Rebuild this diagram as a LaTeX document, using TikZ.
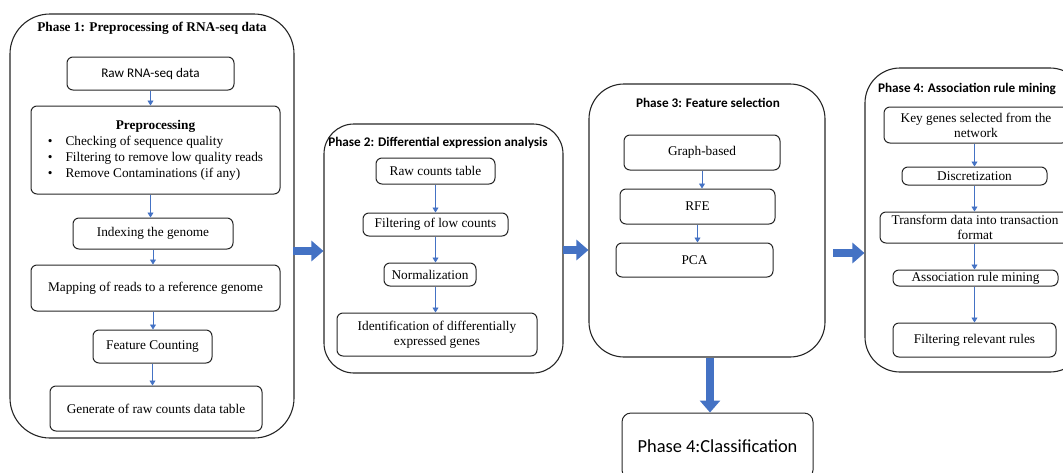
\documentclass[tikz,border=0pt]{standalone}
\usepackage{fontspec}
\setmainfont{Liberation Serif}
\setsansfont{Carlito}
\usetikzlibrary{arrows.meta}

\begin{document}
\begin{tikzpicture}[x=1pt,y=1pt,yscale=-1,xscale=1,
  phase/.style={draw={rgb, 255:red, 38; green, 38; blue, 38 }, line width=1.1pt, inner sep=0pt},
  title/.style={font=\sffamily\bfseries\fontsize{13.2}{15}\selectfont},
  stepbox/.style={draw={rgb, 255:red, 38; green, 38; blue, 38 }, line width=1pt, rounded corners=6pt, inner sep=1pt, align=center, font=\fontsize{13.3}{15}\selectfont},
  flow/.style={draw={rgb, 255:red, 68; green, 114; blue, 196 }, line width=0.8pt, -{Triangle[length=5pt,width=6pt]}},
  bigflow/.style={draw={rgb, 255:red, 68; green, 114; blue, 196 }, line width=8pt, -{Triangle[length=12pt,width=20pt]}},
  ]
\useasboundingbox (0,0) rectangle (1063,472);

%Shape: Phase 1 [id:p1]
\node [phase, rounded corners=40pt, minimum width=284pt, minimum height=424pt] (p1) at (152,226) {};
% Text Node
\node [font=\bfseries\fontsize{13.3}{15}\selectfont] (t1) at (152,28) {Phase 1: Preprocessing of RNA-seq data};
% Text Node
\node [stepbox, font=\sffamily\fontsize{13.2}{15}\selectfont, minimum width=167pt, minimum height=33pt] (raw) at (150.5,73.5) {Raw RNA-seq data};
% Text Node
\node [stepbox, minimum width=249pt, minimum height=88pt] (pre) at (155.5,150) {\renewcommand{\arraystretch}{1.07}\begin{tabular}{@{}l@{\hspace{13pt}}l@{}}
  \multicolumn{2}{c}{\textbf{Preprocessing}}\\
  \textbullet & Checking of sequence quality\\
  \textbullet & Filtering to remove low quality reads\\
  \textbullet & Remove Contaminations (if any)
\end{tabular}};
% Text Node
\node [stepbox, minimum width=160pt, minimum height=31pt] (idx) at (153,233.5) {Indexing the genome};
% Text Node
\node [stepbox, minimum width=249pt, minimum height=46pt] (map) at (155.5,288) {Mapping of reads to a reference genome};
% Text Node
\node [stepbox, minimum width=119pt, minimum height=33pt] (cnt) at (152.5,346.5) {Feature Counting};
% Text Node
\node [stepbox, minimum width=212pt, minimum height=45pt] (gen) at (156,408.5) {Generate of raw counts data table};

\draw [flow] (raw.south) -- (raw.south |- pre.north);
\draw [flow] (raw.south |- pre.south) -- (raw.south |- idx.north);
\draw [flow] (idx.south) -- (idx.south |- map.north);
\draw [flow] (idx.south |- map.south) -- (idx.south |- cnt.north);
\draw [flow] (cnt.south) -- (cnt.south |- gen.north);

%Shape: Phase 2 [id:p2]
\node [phase, rounded corners=30pt, minimum width=239pt, minimum height=249pt] (p2) at (443.5,248.5) {};
% Text Node
\node [title] (t2) at (438,143) {Phase 2: Differential expression analysis};
% Text Node
\node [stepbox, minimum width=119pt, minimum height=26pt] (tab) at (435.5,171) {Raw counts table};
% Text Node
\node [stepbox, minimum width=145pt, minimum height=23pt] (low) at (435.5,224.5) {Filtering of low counts};
% Text Node
\node [stepbox, minimum width=92pt, minimum height=23pt] (nrm) at (430,274.5) {Normalization};
% Text Node
\node [stepbox, minimum width=200pt, minimum height=43pt] (deg) at (437,334.5) {Identification of differentially\\expressed genes};

\draw [flow] (tab.south) -- (tab.south |- low.north);
\draw [flow] (tab.south |- low.south) -- (tab.south |- nrm.north);
\draw [flow] (tab.south |- nrm.south) -- (tab.south |- deg.north);

%Shape: Phase 3 [id:p3]
\node [phase, rounded corners=35pt, minimum width=236pt, minimum height=273pt] (p3) at (707,220.5) {};
% Text Node
\node [title] (t3) at (708,103) {Phase 3: Feature selection};
% Text Node
\node [stepbox, minimum width=156pt, minimum height=35pt] (gph) at (702,152.5) {Graph-based};
% Text Node
\node [stepbox, minimum width=155pt, minimum height=35pt] (rfe) at (697.5,206.5) {RFE};
% Text Node
\node [stepbox, minimum width=157pt, minimum height=34pt] (pca) at (694.5,260) {PCA};

\draw [flow] (gph.south) -- (gph.south |- rfe.north);
\draw [flow] (rfe.south) -- (rfe.south |- pca.north);

% Text Node
\node [stepbox, font=\sffamily\fontsize{18.4}{20}\selectfont, rounded corners=9pt, minimum width=191pt, minimum height=66pt] (cls) at (717.5,446) {Phase 4:Classification};

%Shape: Phase 4 [id:p4]
\node [phase, rounded corners=35pt, minimum width=220pt, minimum height=304pt] (p4) at (975,220) {};
% Text Node
\node [title] (t4) at (967,89) {Phase 4: Association rule mining};
% Text Node
\node [stepbox, minimum width=184pt, minimum height=36pt] (key) at (976,125) {Key genes selected from the\\network};
% Text Node
\node [stepbox, minimum width=145pt, minimum height=18pt] (dsc) at (974.5,176) {Discretization};
% Text Node
\node [stepbox, minimum width=190pt, minimum height=31pt] (trn) at (975,227.5) {Transform data into transaction\\format};
% Text Node
\node [stepbox, minimum width=165pt, minimum height=16pt] (arm) at (975.5,278) {Association rule mining};
% Text Node
\node [stepbox, minimum width=163pt, minimum height=34pt] (rel) at (974.5,340) {Filtering relevant rules};

\draw [flow] (dsc.north |- key.south) -- (dsc.north);
\draw [flow] (dsc.south) -- (dsc.south |- trn.north);
\draw [flow] (dsc.south |- trn.south) -- (dsc.south |- arm.north);
\draw [flow] (dsc.south |- arm.south) -- (dsc.south |- rel.north);

%Shape: Block Arrows
\coordinate (a12) at (293,251);
\coordinate (a23) at (563,250);
\coordinate (a34) at (833,253);
\draw [bigflow] (a12) -- (a12 -| p2.west);
\draw [bigflow] (a23) -- (a23 -| p3.west);
\draw [bigflow] (a34) -- (a34 -| p4.west);
\draw [bigflow] ([xshift=3pt]p3.south) -- ([xshift=3pt]p3.south |- cls.north);

\end{tikzpicture}
\end{document}
